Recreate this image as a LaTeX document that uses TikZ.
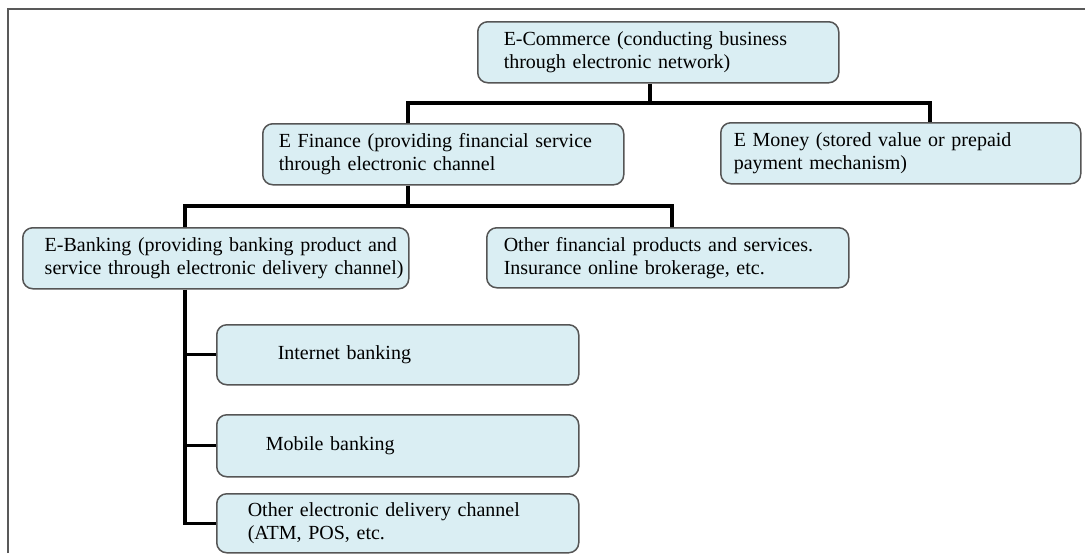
\documentclass[tikz,border=0pt]{standalone}
\usepackage{fontspec}
\setmainfont{Liberation Serif}
\usetikzlibrary{positioning}

\definecolor{boxblue}{HTML}{DAEEF3}
\definecolor{boxedge}{HTML}{555555}

\begin{document}
\begin{tikzpicture}[x=0.5pt,y=-0.5pt,
  box/.style={draw=boxedge,line width=0.75pt,fill=boxblue,rounded corners=5pt,
    anchor=north west,align=left,inner xsep=2pt,inner ysep=0pt,
    minimum height=30.5pt,font=\fontsize{10}{11.5}\selectfont},
  lskip/.style={execute at begin node={\leftskip=#1\relax
    \rightskip=0pt plus 1fil minus 20pt\relax\hyphenpenalty=10000\relax}},
  tree/.style={line width=1.6pt}]
  \useasboundingbox (0,0) rectangle (1085,553);
  % page frame
  \draw[gray!70!black,line width=0.6pt] (8,553) -- (8,9) -- (1085,9);
  % top two levels
  \node[box,text width=176.5pt,lskip=11pt] (ecom) at (477,21)
    {E-Commerce (conducting business\\through electronic network)};
  \node[box,text width=176.5pt,lskip=6pt] (efin) at (262,123)
    {E Finance (providing financial service\\through electronic channel};
  \node[box,text width=176pt,lskip=4.5pt] (emon) at (720,122)
    {E Money (stored value or prepaid\\payment mechanism)};
  \node[box,text width=189pt,lskip=9pt] (ebank) at (22,227)
    {E-Banking (providing banking product and\\service through electronic delivery channel)};
  \node[box,text width=177pt,lskip=6.5pt,minimum height=30pt] (oth) at (486,227)
    {Other financial products and services.\\Insurance online brokerage, etc.};
  % e-banking channels
  \node[box,text width=177pt,lskip=28.5pt,minimum height=30pt] (inet) at (216,324)
    {Internet banking};
  \node[box,text width=177pt,lskip=22.5pt,minimum height=31pt] (mob) at (216,414)
    {Mobile banking};
  \node[box,text width=177pt,lskip=13.5pt,minimum height=29.5pt] (ochan) at (216,493)
    {Other electronic delivery channel\\(ATM, POS, etc.};
  % connectors
  \coordinate (k0) at (650,103);
  \coordinate (kfin) at (408,103);
  \coordinate (kmon) at (930,103);
  \draw[tree] (ecom.south -| k0) -- (k0);
  \draw[tree] (kfin |- efin.north) -- (kfin) -- (kmon) -- (kmon |- emon.north);
  \coordinate (kbank) at (185,206);
  \coordinate (koth) at (672,206);
  \draw[tree] (efin.south -| kfin) -- (kfin |- kbank);
  \draw[tree] (kbank |- ebank.north) -- (kbank) -- (koth) -- (koth |- oth.north);
  \draw[tree] (ebank.south -| kbank) |- (ochan.west);
  \draw[tree] (kbank |- inet.west) -- (inet.west);
  \draw[tree] (kbank |- mob.west) -- (mob.west);
\end{tikzpicture}
\end{document}
